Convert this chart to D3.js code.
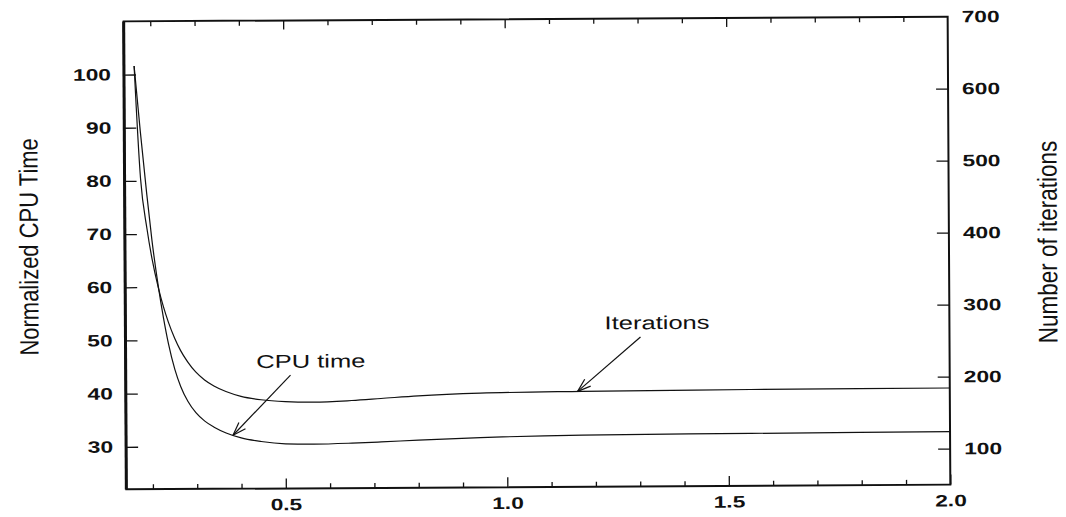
<!DOCTYPE html>
<html>
<head>
<meta charset="utf-8">
<script src="https://cdn.jsdelivr.net/npm/d3@7"></script>
<style>
  html, body { margin: 0; padding: 0; background: #fff; }
  svg { display: block; }
  text { font-family: "Liberation Sans", Arial, Helvetica, sans-serif; fill: #111; }
</style>
</head>
<body>
<svg id="chart" width="1066" height="517"></svg>
<script>
// Relaxation ratio (x) against normalized CPU time and iteration count
const ratio      = [0.163, 0.176, 0.190, 0.201, 0.215, 0.226, 0.237, 0.251, 0.264, 0.280, 0.298, 0.318, 0.339, 0.366, 0.400, 0.445, 0.50, 0.564, 0.65, 0.716, 0.80, 0.94, 1.17, 1.55, 2.0];
const cpuTime    = [101.6, 89.4, 77.4, 68.8, 60.0, 54.2, 49.3, 44.5, 41.3, 38.5, 36.35, 34.75, 33.6, 32.5, 31.55, 30.85, 30.4, 30.3, 30.45, 30.65, 30.95, 31.35, 31.7, 31.85, 31.95];
const iterations = [638, 482, 411.5, 369.8, 329.2, 303.4, 281.9, 259.5, 242.6, 226.6, 212.5, 201.3, 192.9, 185.1, 178.3, 173.4, 170.6, 169.6, 171.6, 174.2, 177.6, 180.8, 182.5, 183.7, 184.2];

const xMajorTicks = [0.5, 1.0, 1.5, 2.0];
const xMinorTicks = [0.2, 0.3, 0.4, 0.6, 0.7, 0.8, 0.9, 1.1, 1.2, 1.3, 1.4, 1.6, 1.7, 1.8, 1.9];
const cpuTicks    = [30, 40, 50, 60, 70, 80, 90, 100];
const iterTicks   = [100, 200, 300, 400, 500, 600, 700];

const W = 824, H = 468, ML = 125, MT = 19;
const SX = 1.38;              // horizontal glyph stretch of the lettering

const svg = d3.select("#chart");
const page = svg.append("g").attr("transform", "rotate(-0.33 537 253)");
const plot = page.append("g").attr("transform", `translate(${ML},${MT})`);

const x  = d3.scaleLinear().domain([0.14, 2.0]).range([0, W]);
const yL = d3.scaleLinear().domain([22, 110]).range([H, 0]);
const yR = d3.scaleLinear().domain([50, 700]).range([H, 0]);

function stretch(sel) {
  sel.selectAll("text").each(function () {
    const t = d3.select(this);
    const tx = +t.attr("x") || 0;
    t.attr("x", tx / SX).attr("transform", `scale(${SX},1)`);
  });
}
function styleAxis(g, labelled) {
  g.select(".domain").remove();
  g.selectAll(".tick line").attr("stroke", "#111").attr("stroke-width", 1.3);
  if (labelled) {
    g.selectAll("text").attr("font-size", 16.5).attr("font-weight", "bold").attr("fill", "#111");
    stretch(g);
  }
}

// bottom axis
plot.append("g").attr("transform", `translate(0,${H})`)
  .call(d3.axisBottom(x).tickValues(xMinorTicks).tickSize(-5).tickFormat(""))
  .call(g => styleAxis(g, false));
plot.append("g").attr("transform", `translate(0,${H})`)
  .call(d3.axisBottom(x).tickValues(xMajorTicks).tickSize(-10).tickPadding(10).tickFormat(d3.format(".1f")))
  .call(g => styleAxis(g, true));

// top axis (ticks only)
plot.append("g")
  .call(d3.axisTop(x).tickValues(xMinorTicks).tickSize(-5).tickFormat(""))
  .call(g => styleAxis(g, false));
plot.append("g")
  .call(d3.axisTop(x).tickValues(xMajorTicks.slice(0, 3)).tickSize(-9).tickFormat(""))
  .call(g => styleAxis(g, false));

// left axis: normalized CPU time
plot.append("g")
  .call(d3.axisLeft(yL).tickValues(cpuTicks).tickSize(-12).tickPadding(13))
  .call(g => styleAxis(g, true));

// right axis: iterations
plot.append("g").attr("transform", `translate(${W},0)`)
  .call(d3.axisRight(yR).tickValues(iterTicks).tickSize(-12).tickPadding(14))
  .call(g => styleAxis(g, true))
  .call(g => g.selectAll(".tick").filter(d => d === 700).select("line").remove());

// frame
plot.append("rect").attr("width", W).attr("height", H)
  .attr("fill", "none").attr("stroke", "#111").attr("stroke-width", 2);
plot.append("line").attr("x1", 0).attr("x2", 0).attr("y1", 0).attr("y2", H)
  .attr("stroke", "#111").attr("stroke-width", 3);

// curves
const cpuPts  = ratio.map((r, i) => [r, cpuTime[i]]);
const iterPts = ratio.map((r, i) => [r, iterations[i]]);
const lineL = d3.line().x(d => x(d[0])).y(d => yL(d[1])).curve(d3.curveMonotoneX);
const lineR = d3.line().x(d => x(d[0])).y(d => yR(d[1])).curve(d3.curveMonotoneX);

plot.append("path").attr("d", lineL(cpuPts)).attr("fill", "none").attr("stroke", "#111").attr("stroke-width", 1.2);
plot.append("path").attr("d", lineR(iterPts)).attr("fill", "none").attr("stroke", "#111").attr("stroke-width", 1.2);

// callouts
function valueAt(pts, r) {
  const i = Math.max(1, d3.bisector(d => d[0]).left(pts, r));
  const a = pts[i - 1], b = pts[i];
  return a[1] + (b[1] - a[1]) * (r - a[0]) / (b[0] - a[0]);
}
const callouts = [
  { text: "CPU time",   pts: cpuPts,  y: yL, at: 0.3815, tail: [0.512, 43.3], label: [0.558, 44.7] },
  { text: "Iterations", pts: iterPts, y: yR, at: 1.160,  tail: [1.3025, 257.5], label: [1.34, 268.4] }
];
callouts.forEach(c => {
  const tip = [x(c.at), c.y(valueAt(c.pts, c.at))];
  const tail = [x(c.tail[0]), c.y(c.tail[1])];
  plot.append("line").attr("x1", tail[0]).attr("y1", tail[1]).attr("x2", tip[0]).attr("y2", tip[1])
    .attr("stroke", "#111").attr("stroke-width", 1.2);
  const ang = Math.atan2(tail[1] - tip[1], tail[0] - tip[0]);
  [-0.33, 0.33].forEach(da => {
    plot.append("line")
      .attr("x1", tip[0]).attr("y1", tip[1])
      .attr("x2", tip[0] + 14 * Math.cos(ang + da)).attr("y2", tip[1] + 14 * Math.sin(ang + da))
      .attr("stroke", "#111").attr("stroke-width", 1.2);
  });
  plot.append("text")
    .attr("transform", `translate(${x(c.label[0])},${c.y(c.label[1])}) scale(${SX},1)`)
    .attr("text-anchor", "middle").attr("font-size", 18.5)
    .text(c.text);
});

// axis titles
page.append("text")
  .attr("transform", "translate(38,244) rotate(-90) scale(1,1.2)")
  .attr("text-anchor", "middle").attr("font-size", 22)
  .text("Normalized CPU Time");
page.append("text")
  .attr("transform", "translate(1057,245) rotate(-90) scale(1,1.2)")
  .attr("text-anchor", "middle").attr("font-size", 22.5)
  .text("Number of iterations");
</script>
</body>
</html>
